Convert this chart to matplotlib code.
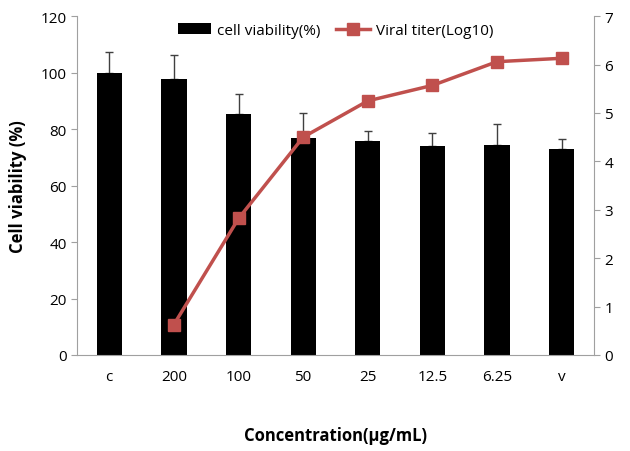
import matplotlib
matplotlib.use("Agg")
from matplotlib import pyplot as plt
import numpy as np

categories = ["c", "200", "100", "50", "25", "12.5", "6.25", "v"]
viability = [100, 97.8, 85.3, 76.8, 75.7, 74.0, 74.3, 72.8]
viability_err = [7.4, 8.6, 7.3, 9.0, 3.5, 4.8, 7.6, 3.7]
titer_cats = ["200", "100", "50", "25", "12.5", "6.25", "v"]
titer = [0.63, 2.82, 4.5, 5.25, 5.57, 6.06, 6.13]

plt.rcParams['font.family'] = ['Open Sans', 'DejaVu Sans']

fig = plt.figure(figsize=(6.3, 4.52), dpi=100)
ax = fig.add_axes([0.1222, 0.2124, 0.8206, 0.7496])
x = np.arange(len(categories))
bars = ax.bar(x, viability, width=0.39, color='black', label='cell viability(%)', zorder=2)
ax.errorbar(x, viability, yerr=[np.zeros(len(x)), viability_err], fmt='none',
            ecolor='#404040', elinewidth=1, capsize=3, capthick=1, zorder=1)
ax.set_xlim(-0.5, len(categories) - 0.5)
ax.set_ylim(0, 120)
ax.set_yticks(range(0, 121, 20))
ax.set_xticks(x)
ax.set_xticklabels(categories)
ax.tick_params(axis='x', length=0, pad=10, labelsize=11)
ax.tick_params(axis='y', length=4, color='#a0a0a0', labelsize=11, direction='out')
for s in ['top', 'right']:
    ax.spines[s].set_visible(False)
for s in ['left', 'bottom']:
    ax.spines[s].set_color('#a0a0a0')
ax.set_ylabel('Cell viability (%)', fontsize=12, fontweight='bold', labelpad=10)
ax.set_xlabel('Concentration(μg/mL)', fontsize=12, fontweight='bold', labelpad=30)

ax2 = ax.twinx()
tx = [categories.index(c) for c in titer_cats]
line, = ax2.plot(tx, titer, color='#C0504D', lw=2.5, marker='s', markersize=9,
                 label='Viral titer(Log10)', zorder=3)
ax2.set_ylim(0, 7)
ax2.set_yticks(range(0, 8))
ax2.tick_params(axis='y', length=4, color='#a0a0a0', labelsize=11, direction='out')
for s in ['top', 'left', 'bottom']:
    ax2.spines[s].set_visible(False)
ax2.spines['right'].set_color('#a0a0a0')

ax.legend([bars, line], ['cell viability(%)', 'Viral titer(Log10)'], loc='upper center',
          bbox_to_anchor=(0.5, 1.02), ncol=2, frameon=False, fontsize=11,
          handlelength=2.2, columnspacing=1.0, handletextpad=0.4)

fig.savefig('out.png', dpi=100)
